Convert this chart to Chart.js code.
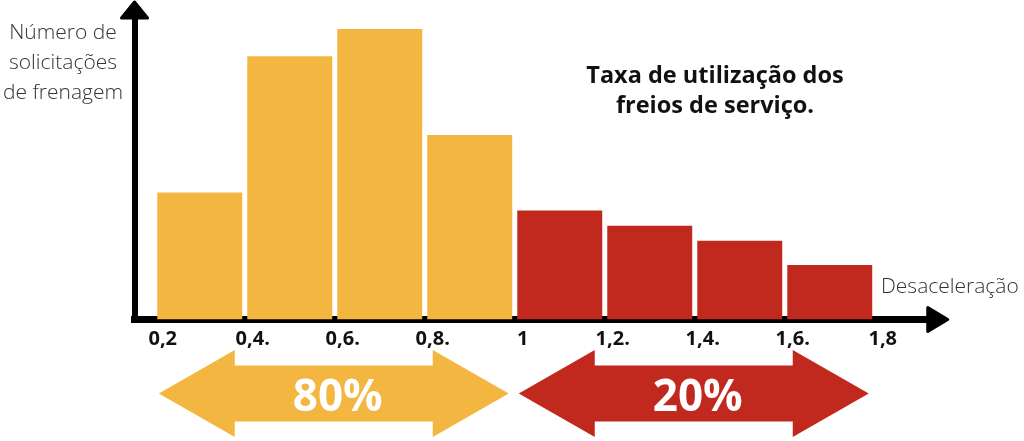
<!DOCTYPE html>
<html lang="pt-BR">
<head>
<meta charset="utf-8">
<title>Taxa de utilização dos freios de serviço</title>
<script src="https://cdn.jsdelivr.net/npm/chart.js@4.4.1/dist/chart.umd.min.js"></script>
<style>
  html, body { margin: 0; padding: 0; background: #fff; }
  #wrap { width: 1024px; height: 441px; }
</style>
</head>
<body>
<div id="wrap"><canvas id="brakeChart" width="1024" height="441"></canvas></div>
<script>
// histogram bins (deceleration) and braking request counts
const binCenters = [0.3, 0.5, 0.7, 0.9, 1.1, 1.3, 1.5, 1.7];
const counts = [42, 87, 96, 61, 36, 31, 26, 18];
const tickValues = [0.2, 0.4, 0.6, 0.8, 1.0, 1.2, 1.4, 1.6, 1.8];
const tickLabels = ['0,2', '0,4.', '0,6.', '0,8.', '1', '1,2.', '1,4.', '1,6.', '1,8'];
const groupLabels = ['80%', '20%'];
const groupRanges = [[0.2, 1.0], [1.0, 1.8]];
const titleLines = ['Taxa de utilização dos', 'freios de serviço.'];
const yTitleLines = ['Número de', 'solicitações', 'de frenagem'];
const xTitle = 'Desaceleração';

const colors = {
    low: '#F3B641',
    high: '#C1291F',
    axis: '#000000',
    text: '#333333'
};

function colorFor(x) {
    return x < 1 ? colors.low : colors.high;
}

function doubleArrow(ctx, left, right, cy, head, halfHead, halfShaft) {
    ctx.beginPath();
    ctx.moveTo(left, cy);
    ctx.lineTo(left + head, cy - halfHead);
    ctx.lineTo(left + head, cy - halfShaft);
    ctx.lineTo(right - head, cy - halfShaft);
    ctx.lineTo(right - head, cy - halfHead);
    ctx.lineTo(right, cy);
    ctx.lineTo(right - head, cy + halfHead);
    ctx.lineTo(right - head, cy + halfShaft);
    ctx.lineTo(left + head, cy + halfShaft);
    ctx.lineTo(left + head, cy + halfHead);
    ctx.closePath();
    ctx.fill();
}

const decorPlugin = {
    id: 'decor',
    afterDraw(chart) {
        const { ctx, chartArea: area, scales: { x } } = chart;
        ctx.save();

        // axis arrowheads
        ctx.fillStyle = colors.axis;
        ctx.strokeStyle = colors.axis;
        ctx.lineWidth = 3;
        ctx.lineJoin = 'round';
        ctx.beginPath();
        ctx.moveTo(area.right - 1, area.bottom - 12);
        ctx.lineTo(area.right + 19, area.bottom);
        ctx.lineTo(area.right - 1, area.bottom + 12);
        ctx.closePath();
        ctx.fill();
        ctx.stroke();
        ctx.beginPath();
        ctx.moveTo(area.left - 13, area.top + 1);
        ctx.lineTo(area.left, area.top - 15);
        ctx.lineTo(area.left + 13, area.top + 1);
        ctx.closePath();
        ctx.fill();
        ctx.stroke();

        // share arrows under the axis
        groupRanges.forEach((range, i) => {
            const left = x.getPixelForValue(range[0]) + 4;
            const right = x.getPixelForValue(range[1]) - 6;
            ctx.fillStyle = colorFor(range[0]);
            doubleArrow(ctx, left, right, 393.5, 76, 43.5, 28);
            ctx.fillStyle = '#ffffff';
            ctx.font = 'bold 44px "Open Sans"';
            ctx.textAlign = 'center';
            ctx.textBaseline = 'alphabetic';
            ctx.fillText(groupLabels[i], (left + right) / 2 + 4, 411);
        });

        // title
        ctx.fillStyle = '#111111';
        ctx.font = 'bold 23.5px "Open Sans"';
        ctx.textAlign = 'center';
        titleLines.forEach((line, i) => ctx.fillText(line, 715, 83 + i * 29.5));

        // axis titles
        ctx.fillStyle = colors.text;
        ctx.font = '300 21px "Open Sans"';
        yTitleLines.forEach((line, i) => ctx.fillText(line, 63, 39 + i * 29.8));
        ctx.textAlign = 'left';
        ctx.font = '300 21px "Open Sans"';
        ctx.fillText(xTitle, 881, 293);

        ctx.restore();
    }
};

new Chart(document.getElementById('brakeChart'), {
    type: 'bar',
    data: {
        datasets: [{
            data: binCenters.map((c, i) => ({ x: c, y: counts[i] })),
            backgroundColor: ctx => colorFor(ctx.raw ? ctx.raw.x : 0),
            borderWidth: 0,
            barPercentage: 1,
            categoryPercentage: 0.944
        }]
    },
    options: {
        responsive: false,
        animation: false,
        devicePixelRatio: 1,
        layout: { padding: { left: 134.5, right: 95.25, top: 17, bottom: 0 } },
        plugins: {
            legend: { display: false },
            tooltip: { enabled: false }
        },
        scales: {
            x: {
                type: 'linear',
                offset: false,
                min: 0.155,
                max: 1.92,
                z: 1,
                grid: { display: false, drawTicks: false },
                border: { display: true, color: colors.axis, width: 7 },
                afterBuildTicks: scale => {
                    scale.ticks = tickValues.map(v => ({ value: v }));
                },
                afterFit: scale => {
                    scale.height = 121.5;
                },
                ticks: {
                    autoSkip: false,
                    maxRotation: 0,
                    padding: 8,
                    labelOffset: 8,
                    color: '#111111',
                    font: { family: 'Open Sans', size: 20, weight: 'bold' },
                    callback: (value, index) => tickLabels[index]
                }
            },
            y: {
                min: 0,
                max: 100,
                z: 1,
                grid: { display: false, drawTicks: false },
                border: { display: true, color: colors.axis, width: 6 },
                ticks: { display: false },
                afterFit: scale => {
                    scale.width = 0;
                }
            }
        }
    },
    plugins: [decorPlugin]
});
</script>
</body>
</html>
